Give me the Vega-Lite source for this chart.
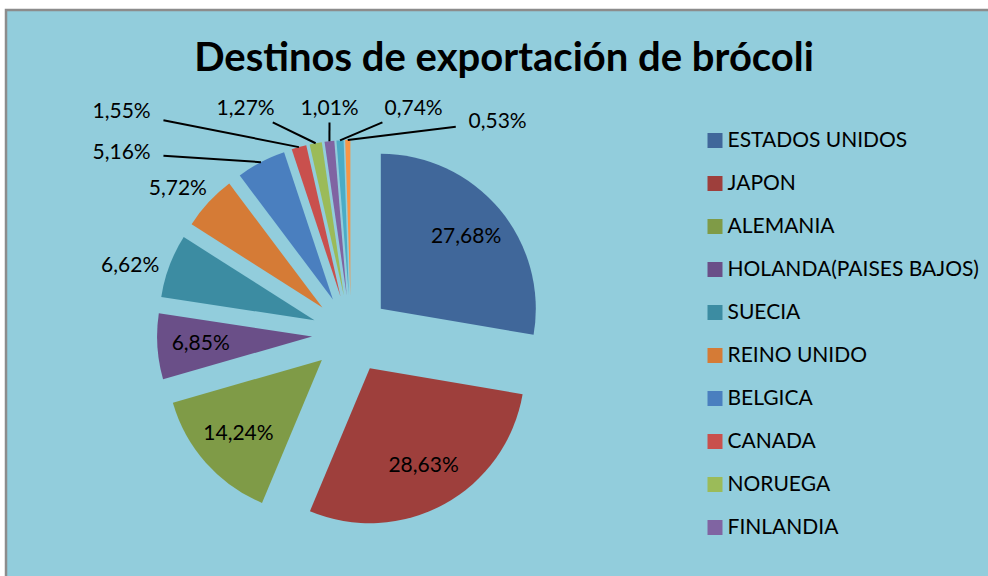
{
  "$schema": "https://vega.github.io/schema/vega-lite/v6.json",
  "width": 984,
  "height": 568,
  "autosize": {"type": "none"},
  "padding": {"left": 6, "top": 10, "right": 0, "bottom": 0},
  "background": "#ffffff",
  "config": {
    "view": {"fill": "#92CDDC", "stroke": "#8C8C8C", "strokeWidth": 2.5},
    "font": "Lato"
  },
  "title": {
    "text": "Destinos de exportación de brócoli",
    "font": "Lato",
    "fontSize": 40,
    "fontWeight": "bold",
    "color": "#000000",
    "anchor": "middle",
    "frame": "group",
    "offset": -69,
    "dx": 6
  },
  "data": {
    "values": [
      {"pais": "ESTADOS UNIDOS", "pct": 27.68, "orden": 1},
      {"pais": "JAPON", "pct": 28.63, "orden": 2},
      {"pais": "ALEMANIA", "pct": 14.24, "orden": 3},
      {"pais": "HOLANDA(PAISES BAJOS)", "pct": 6.85, "orden": 4},
      {"pais": "SUECIA", "pct": 6.62, "orden": 5},
      {"pais": "REINO UNIDO", "pct": 5.72, "orden": 6},
      {"pais": "BELGICA", "pct": 5.16, "orden": 7},
      {"pais": "CANADA", "pct": 1.55, "orden": 8},
      {"pais": "NORUEGA", "pct": 1.27, "orden": 9},
      {"pais": "FINLANDIA", "pct": 1.01, "orden": 10},
      {"pais": "OTRO 1", "pct": 0.74, "orden": 11},
      {"pais": "OTRO 2", "pct": 0.53, "orden": 12}
    ]
  },
  "transform": [
    {"window": [{"op": "sum", "field": "pct", "as": "fin"}], "sort": [{"field": "orden"}], "frame": [null, 0]},
    {"calculate": "datum.fin - datum.pct", "as": "inicio"},
    {"calculate": "(datum.inicio + datum.fin) * PI / 100", "as": "mid"},
    {"calculate": "datum.pct < 6.7 ? 1 : 0", "as": "fuera"},
    {"calculate": "datum.pct < 5.5 ? 1 : 0", "as": "fila"},
    {"window": [{"op": "sum", "field": "fila", "as": "nfila"}], "sort": [{"field": "orden"}], "frame": [null, 0]},
    {"calculate": "datum.nfila - 1", "as": "j"},
    {"calculate": "0.2516 * sin(datum.mid)", "as": "ex"},
    {"calculate": "0.2516 * cos(datum.mid)", "as": "ey"},
    {"calculate": "datum.ex + 1.0 * sin(datum.mid)", "as": "ox"},
    {"calculate": "datum.ey + 1.0 * cos(datum.mid)", "as": "oy"},
    {"calculate": "datum.fila == 1 ? (datum.j <= 1 ? -1.48 : -0.68 + (datum.j - 2) * 0.542) : datum.fuera == 1 ? datum.ex + 1.27 * sin(datum.mid) : datum.ex + 0.72 * sin(datum.mid)", "as": "lx"},
    {"calculate": "datum.fila == 1 ? (datum.j <= 1 ? 1.168 + datum.j * 0.265 : (datum.j == 5 ? 1.37 : 1.45)) : datum.fuera == 1 ? datum.ey + 1.27 * cos(datum.mid) - 0.097 : datum.ey + 0.72 * cos(datum.mid)", "as": "ly"},
    {"calculate": "datum.ox - datum.lx", "as": "ddx"},
    {"calculate": "datum.oy - datum.ly", "as": "ddy"},
    {"calculate": "sqrt(datum.ddx * datum.ddx + datum.ddy * datum.ddy)", "as": "len"},
    {"calculate": "datum.ddx / datum.len", "as": "ux"},
    {"calculate": "datum.ddy / datum.len", "as": "uy"},
    {"calculate": "min(0.27 / max(abs(datum.ux), 0.001), 0.085 / max(abs(datum.uy), 0.001))", "as": "gap"},
    {"calculate": "datum.lx + datum.gap * datum.ux", "as": "lx2"},
    {"calculate": "datum.ly + datum.gap * datum.uy", "as": "ly2"},
    {"calculate": "replace(format(datum.pct, '.2f'), '.', ',') + '%'", "as": "etiqueta"}
  ],
  "encoding": {
    "x": {"type": "quantitative", "scale": {"domain": [-2.2258, 4.1226], "nice": false, "zero": false}, "axis": null},
    "y": {"type": "quantitative", "scale": {"domain": [-1.5742, 2.0903], "nice": false, "zero": false}, "axis": null}
  },
  "layer": [
    {
      "mark": {"type": "arc", "radius": 155},
      "encoding": {
        "x": {"field": "ex", "type": "quantitative"},
        "y": {"field": "ey", "type": "quantitative"},
        "theta": {"field": "inicio", "type": "quantitative", "stack": null, "scale": {"domain": [0, 100], "range": [0, 6.283185]}},
        "theta2": {"field": "fin"},
        "color": {
          "field": "pais",
          "type": "nominal",
          "scale": {
            "domain": ["ESTADOS UNIDOS", "JAPON", "ALEMANIA", "HOLANDA(PAISES BAJOS)", "SUECIA", "REINO UNIDO", "BELGICA", "CANADA", "NORUEGA", "FINLANDIA", "OTRO 1", "OTRO 2"],
            "range": ["#40679A", "#9E3F3C", "#7F9B47", "#6A4F88", "#3C8CA2", "#D57B36", "#4A7FBF", "#C9504D", "#9BBB59", "#8064A2", "#4BACC6", "#F79646"]
          },
          "legend": {
            "orient": "none",
            "legendX": 698.5,
            "legendY": 120,
            "title": null,
            "symbolType": "square",
            "symbolSize": 225,
            "symbolStrokeWidth": 0,
            "symbolOpacity": 1,
            "labelFont": "Lato",
            "labelFontSize": 21,
            "labelLimit": 400,
            "labelColor": "#000000",
            "labelOffset": 2,
            "rowPadding": 21,
            "values": ["ESTADOS UNIDOS", "JAPON", "ALEMANIA", "HOLANDA(PAISES BAJOS)", "SUECIA", "REINO UNIDO", "BELGICA", "CANADA", "NORUEGA", "FINLANDIA"]
          }
        }
      }
    },
    {
      "transform": [{"filter": "datum.pct < 5.5"}],
      "mark": {"type": "rule", "color": "#000000", "strokeWidth": 2},
      "encoding": {
        "x": {"field": "ox", "type": "quantitative"},
        "y": {"field": "oy", "type": "quantitative"},
        "x2": {"field": "lx2"},
        "y2": {"field": "ly2"}
      }
    },
    {
      "mark": {"type": "text", "font": "Lato", "fontSize": 21, "color": "#000000", "align": "center", "baseline": "middle"},
      "encoding": {
        "x": {"field": "lx", "type": "quantitative"},
        "y": {"field": "ly", "type": "quantitative"},
        "text": {"field": "etiqueta"}
      }
    }
  ]
}
